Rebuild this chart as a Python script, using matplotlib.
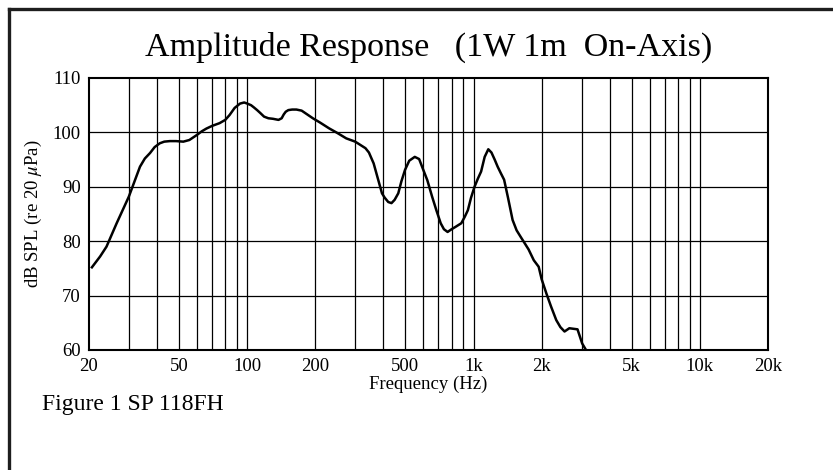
import matplotlib
matplotlib.use("Agg")
import matplotlib.pyplot as plt
from matplotlib.lines import Line2D

plt.rcParams["font.family"] = ["Liberation Serif", "DejaVu Serif"]
plt.rcParams["mathtext.fontset"] = "stix"

# response curve
freq = [20.6, 22.4, 23.9, 26.5, 30, 33.6, 35.3, 37.2, 39, 41.1, 43, 45.5, 48.5,
        52.2, 55.5, 59.8, 63, 66, 70, 75.5, 80, 83.6, 88, 93, 97, 100, 104, 107,
        110.6, 114, 118.7, 124, 130, 137.5, 142, 145, 148, 152, 158, 165, 174,
        195, 210, 230, 250, 274, 300, 333, 345, 362, 375, 385, 394, 405, 420,
        434, 448, 465, 480, 498, 520, 550, 575, 600, 625, 656, 685, 716, 740,
        768, 800, 830, 883, 915, 944, 975, 1010, 1045, 1080, 1120, 1162, 1200,
        1240, 1278, 1320, 1365, 1420, 1488, 1550, 1615, 1750, 1846, 1940, 2000,
        2098, 2200, 2320, 2420, 2524, 2650, 2880, 3020, 3140]
spl = [75.2, 77.2, 79.0, 83.3, 88.2, 93.7, 95.2, 96.2, 97.3, 98.0, 98.3, 98.4,
       98.4, 98.3, 98.6, 99.5, 100.2, 100.7, 101.2, 101.7, 102.3, 103.2, 104.5,
       105.3, 105.5, 105.3, 105.0, 104.6, 104.1, 103.6, 102.9, 102.6, 102.5, 102.3,
       102.6, 103.3, 103.8, 104.1, 104.2, 104.2, 104.0, 102.6, 101.8, 100.75, 99.9,
       98.9, 98.3, 97.1, 96.3, 94.3, 92.0, 90.3, 88.8, 88.0, 87.2, 87.0, 87.6,
       88.8, 91.0, 93.1, 94.8, 95.5, 95.1, 93.1, 91.2, 88.2, 85.7, 83.3, 82.2,
       81.7, 82.2, 82.6, 83.3, 84.5, 85.7, 88.0, 90.0, 91.5, 92.8, 95.5, 96.9,
       96.3, 95.0, 93.7, 92.5, 91.3, 88.0, 83.9, 82.0, 80.8, 78.5, 76.5, 75.3,
       73.0, 70.4, 68.0, 65.5, 64.2, 63.4, 64.0, 63.8, 61.2, 60.0]

xticks = [20, 50, 100, 200, 500, 1000, 2000, 5000, 10000, 20000]
xtick_labels = ["20", "50", "100", "200", "500", "1k", "2k", "5k", "10k", "20k"]
xgrid = [30, 40, 60, 70, 80, 90, 300, 400, 600, 700, 800, 900,
         3000, 4000, 6000, 7000, 8000, 9000]
yticks = [60, 70, 80, 90, 100, 110]

W, H = 833, 470
fig = plt.figure(figsize=(W / 100, H / 100), dpi=100)
fig.patch.set_facecolor("white")
ax = fig.add_axes([89 / W, 1 - 350 / H, (768 - 89) / W, (350 - 78) / H])

ax.set_xscale("log")
ax.set_xlim(20, 20000)
ax.set_ylim(60, 110)
ax.set_xticks(xticks)
ax.set_xticklabels(xtick_labels)
ax.set_xticks([], minor=True)
ax.set_yticks(yticks)
ax.tick_params(length=0, labelsize=13.5, pad=6, colors="black")
for f in xticks[1:-1] + xgrid:
    ax.axvline(f, color="black", linewidth=0.9, zorder=1)
for y in yticks[1:-1]:
    ax.axhline(y, color="black", linewidth=0.9, zorder=1)
for s in ax.spines.values():
    s.set_linewidth(1.5)

ax.plot(freq, spl, color="black", linewidth=1.8, zorder=3,
        solid_joinstyle="round")

ax.set_xlabel("Frequency (Hz)", fontsize=13.5, labelpad=0)
ax.set_ylabel(r"dB SPL (re 20 $\mu$Pa)", fontsize=13.5, labelpad=6)

fig.text(429 / W, 1 - 56 / H, "Amplitude Response   (1W 1m  On-Axis)",
         ha="center", va="baseline", fontsize=24.5)
fig.text(42 / W, 1 - 410 / H, "Figure 1 SP 118FH",
         ha="left", va="baseline", fontsize=17)

# page frame (top and left edges)
fig.add_artist(Line2D([8.5 / W, 8.5 / W], [0, 1 - 8.5 / H], transform=fig.transFigure,
                      color="#1e1e1e", linewidth=2.4, solid_capstyle="projecting"))
fig.add_artist(Line2D([8.5 / W, 1], [1 - 8.5 / H, 1 - 8.5 / H], transform=fig.transFigure,
                      color="#1e1e1e", linewidth=2.4, solid_capstyle="projecting"))

fig.savefig("out.png", dpi=100, facecolor="white")
